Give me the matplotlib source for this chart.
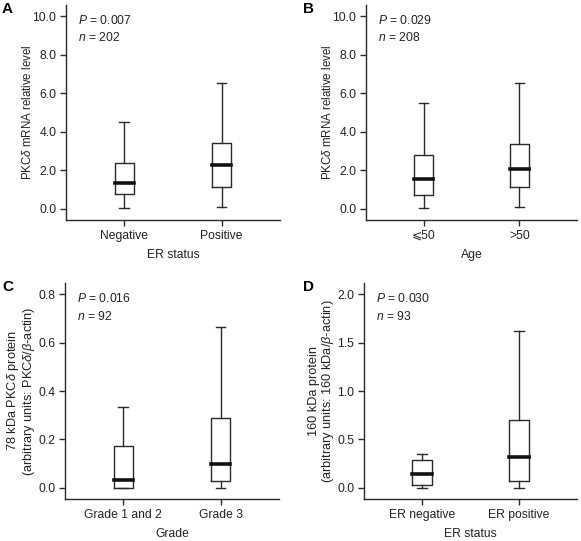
import matplotlib
matplotlib.use("Agg")
import matplotlib.pyplot as plt
from matplotlib.ticker import FormatStrFormatter

plt.rcParams['font.family'] = ['Liberation Sans', 'DejaVu Sans']
plt.rcParams['mathtext.fontset'] = 'custom'
plt.rcParams['mathtext.rm'] = 'Liberation Sans'
plt.rcParams['mathtext.it'] = 'Liberation Sans:italic'

FS = 8.7

# box statistics: low whisker, Q1, median, Q3, high whisker
a_labels = ['Negative', 'Positive']
a_low = [0.04, 0.10]
a_q1 = [0.78, 1.12]
a_med = [1.33, 2.28]
a_q3 = [2.40, 3.40]
a_high = [4.52, 6.53]

b_labels = ['\u2a7d50', '>50']
b_low = [0.05, 0.10]
b_q1 = [0.75, 1.15]
b_med = [1.57, 2.07]
b_q3 = [2.81, 3.37]
b_high = [5.50, 6.53]

c_labels = ['Grade 1 and 2', 'Grade 3']
c_low = [0.0, 0.0]
c_q1 = [0.0, 0.028]
c_med = [0.031, 0.10]
c_q3 = [0.171, 0.287]
c_high = [0.333, 0.665]

d_labels = ['ER negative', 'ER positive']
d_low = [0.0, 0.0]
d_q1 = [0.028, 0.07]
d_med = [0.14, 0.322]
d_q3 = [0.287, 0.70]
d_high = [0.35, 1.62]

fig = plt.figure(figsize=(5.81, 5.41), dpi=100)

panels = [
    dict(rect=[66/581, 321/541, 214/581, 215/541], letter='A', lx=2/581,
         labels=a_labels, low=a_low, q1=a_q1, med=a_med, q3=a_q3, high=a_high,
         ylim=(-0.57, 10.57), ticks=[0, 2, 4, 6, 8, 10], fmt='%.1f',
         ylabel='PKC$\\it{\\delta}$ mRNA relative level', yfs=8.3, ypad=-1,
         xlabel='ER status', p='0.007', n='202'),
    dict(rect=[366/581, 321/541, 211/581, 215/541], letter='B', lx=303/581,
         labels=b_labels, low=b_low, q1=b_q1, med=b_med, q3=b_q3, high=b_high,
         ylim=(-0.57, 10.57), ticks=[0, 2, 4, 6, 8, 10], fmt='%.1f',
         ylabel='PKC$\\it{\\delta}$ mRNA relative level', yfs=8.3, ypad=-1,
         xlabel='Age', p='0.029', n='208'),
    dict(rect=[65/581, 42/541, 214/581, 216/541], letter='C', lx=2/581,
         labels=c_labels, low=c_low, q1=c_q1, med=c_med, q3=c_q3, high=c_high,
         ylim=(-0.046, 0.846), ticks=[0, 0.2, 0.4, 0.6, 0.8], fmt='%.1f',
         ylabel='78 kDa PKC$\\it{\\delta}$ protein\n(arbitrary units: PKC$\\it{\\delta}$/$\\it{\\beta}$-actin)',
         yfs=9.2, ypad=1, xlabel='Grade', p='0.016', n='92'),
    dict(rect=[364/581, 42/541, 213/581, 216/541], letter='D', lx=303/581,
         labels=d_labels, low=d_low, q1=d_q1, med=d_med, q3=d_q3, high=d_high,
         ylim=(-0.115, 2.115), ticks=[0, 0.5, 1.0, 1.5, 2.0], fmt='%.1f',
         ylabel='160 kDa protein\n(arbitrary units: 160 kDa/$\\it{\\beta}$-actin)',
         yfs=9.2, ypad=1, xlabel='ER status', p='0.030', n='93'),
]

lc = '#2a2a2a'
tc = '#222222'
for pn in panels:
    ax = fig.add_axes(pn['rect'])
    stats = []
    for i in range(2):
        stats.append(dict(whislo=pn['low'][i], q1=pn['q1'][i], med=pn['med'][i],
                          q3=pn['q3'][i], whishi=pn['high'][i], fliers=[]))
    ax.bxp(stats, positions=[1, 2], widths=0.2, showfliers=False,
           boxprops=dict(color=lc, linewidth=1.0),
           whiskerprops=dict(color=lc, linewidth=1.0),
           capprops=dict(color=lc, linewidth=1.0),
           medianprops=dict(color='#111111', linewidth=2.6, solid_capstyle='projecting'),
           capwidths=0.1)
    ax.set_xlim(0.4, 2.6)
    ax.set_ylim(*pn['ylim'])
    ax.set_yticks(pn['ticks'])
    ax.yaxis.set_major_formatter(FormatStrFormatter(pn['fmt']))
    ax.set_xticks([1, 2])
    ax.set_xticklabels(pn['labels'])
    for s in ['top', 'right']:
        ax.spines[s].set_visible(False)
    for s in ['left', 'bottom']:
        ax.spines[s].set_color(lc)
        ax.spines[s].set_linewidth(1.0)
    ax.tick_params(direction='out', length=4, width=1.0, color=lc, labelcolor=tc,
                   labelsize=FS, pad=3)
    ax.tick_params(axis='x', pad=3)
    ax.set_xlabel(pn['xlabel'], fontsize=FS, labelpad=5, color=tc)
    ax.set_ylabel(pn['ylabel'], fontsize=pn['yfs'], labelpad=pn['ypad'], color=tc,
                  linespacing=0.95)
    ax.text(0.056, 0.93, '$\\it{P}$ = ' + pn['p'], transform=ax.transAxes,
            fontsize=FS, va='center', ha='left', color=tc)
    ax.text(0.056, 0.847, '$\\it{n}$ = ' + pn['n'], transform=ax.transAxes,
            fontsize=FS, va='center', ha='left', color=tc)
    top = pn['rect'][1] + pn['rect'][3]
    fig.text(pn['lx'], top + 3/541, pn['letter'], fontsize=11, fontweight='bold',
             ha='left', va='top')

fig.savefig('out.png', dpi=100)
